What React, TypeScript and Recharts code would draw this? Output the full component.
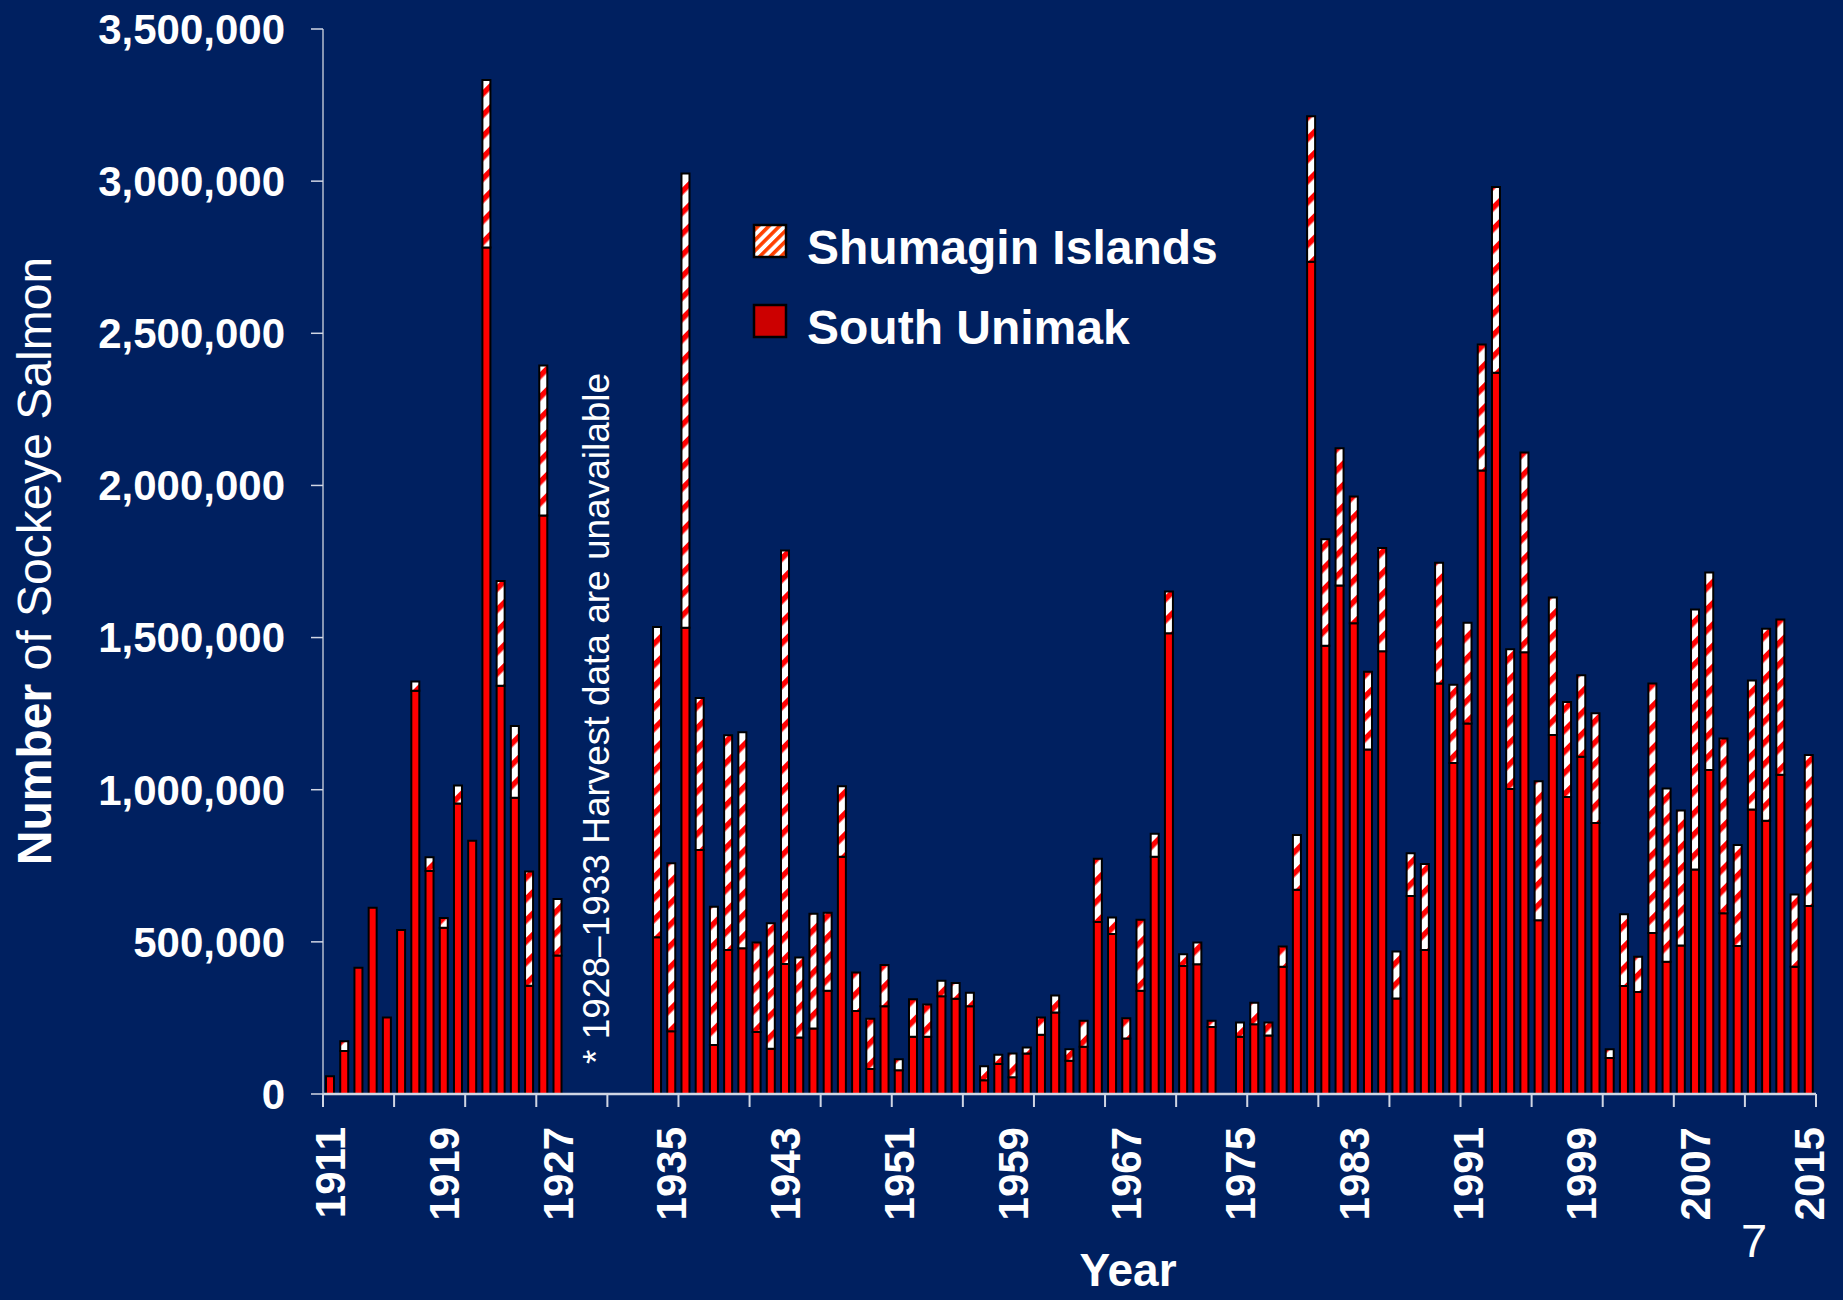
import React from 'react';
import { BarChart, Bar, XAxis, YAxis, Legend } from 'recharts';

// harvest years, 1911-2015 (1928-1933 and 1974 have no data)
const years = [
  1911, 1912, 1913, 1914, 1915, 1916, 1917, 1918, 1919, 1920,
  1921, 1922, 1923, 1924, 1925, 1926, 1927, 1928, 1929, 1930,
  1931, 1932, 1933, 1934, 1935, 1936, 1937, 1938, 1939, 1940,
  1941, 1942, 1943, 1944, 1945, 1946, 1947, 1948, 1949, 1950,
  1951, 1952, 1953, 1954, 1955, 1956, 1957, 1958, 1959, 1960,
  1961, 1962, 1963, 1964, 1965, 1966, 1967, 1968, 1969, 1970,
  1971, 1972, 1973, 1974, 1975, 1976, 1977, 1978, 1979, 1980,
  1981, 1982, 1983, 1984, 1985, 1986, 1987, 1988, 1989, 1990,
  1991, 1992, 1993, 1994, 1995, 1996, 1997, 1998, 1999, 2000,
  2001, 2002, 2003, 2004, 2005, 2006, 2007, 2008, 2009, 2010,
  2011, 2012, 2013, 2014, 2015,
];

const southUnimak = [
  58000, 141000, 415000, 612000, 251000, 539000, 1325000, 733000, 546000, 955000,
  832000, 2782000, 1342000, 974000, 356000, 1901000, 455000, null, null, null,
  null, null, null, 515000, 206000, 1532000, 802000, 161000, 473000, 479000,
  204000, 149000, 427000, 186000, 215000, 339000, 780000, 273000, 82000, 288000,
  78000, 188000, 188000, 321000, 313000, 288000, 45000, 99000, 55000, 133000,
  195000, 268000, 109000, 155000, 565000, 526000, 182000, 339000, 780000, 1514000,
  421000, 426000, 220000, null, 188000, 229000, 192000, 418000, 671000, 2735000,
  1473000, 1671000, 1547000, 1132000, 1455000, 314000, 651000, 473000, 1349000, 1088000,
  1218000, 2049000, 2370000, 1002000, 1452000, 571000, 1180000, 976000, 1108000, 891000,
  118000, 355000, 335000, 529000, 435000, 488000, 738000, 1065000, 594000, 486000,
  935000, 898000, 1049000, 418000, 618000,
];

const shumagin = [
  0, 32000, 0, 0, 0, 0, 31000, 45000, 32000, 59000,
  0, 550000, 344000, 235000, 375000, 493000, 186000, null, null, null,
  null, null, null, 1020000, 552000, 1493000, 499000, 454000, 706000, 710000,
  294000, 412000, 1359000, 263000, 377000, 257000, 231000, 126000, 165000, 136000,
  36000, 123000, 106000, 51000, 52000, 45000, 46000, 30000, 78000, 20000,
  56000, 56000, 38000, 86000, 208000, 54000, 67000, 234000, 75000, 137000,
  38000, 72000, 21000, null, 47000, 71000, 43000, 67000, 180000, 478000,
  350000, 451000, 417000, 256000, 339000, 154000, 140000, 283000, 397000, 257000,
  331000, 414000, 611000, 460000, 656000, 457000, 452000, 312000, 268000, 360000,
  29000, 236000, 116000, 820000, 569000, 444000, 854000, 649000, 574000, 332000,
  424000, 631000, 510000, 238000, 496000,
];

const yTicks = [0, 500000, 1000000, 1500000, 2000000, 2500000, 3000000, 3500000];
const legendOrder = ['shumagin', 'southUnimak'];
const LABEL_EVERY = 8;
const TICK_EVERY = 5;

const data = years.map((year, i) => ({
  year,
  southUnimak: southUnimak[i],
  shumagin: shumagin[i],
}));

const W = 1843;
const H = 1300;
const BG = '#002060';
const AXIS = '#D0D6E4';
const FONT = '"Liberation Sans", Arial, Helvetica, sans-serif';
const MARGIN = { top: 29, right: 27, left: 0, bottom: 0 };
const Y_WIDTH = 323;
const HALF_BAND = (W - Y_WIDTH - MARGIN.right) / years.length / 2;

const XTick = (props: any) => {
  const { x, y, index, payload } = props;
  const tx = x + 15;
  const ty = y + 33;
  return (
    <g>
      {index % TICK_EVERY === 0 && (
        <line x1={x - HALF_BAND} x2={x - HALF_BAND} y1={y} y2={y + 13} stroke={AXIS} strokeWidth={2} />
      )}
      {index === years.length - 1 && (
        <line x1={x + HALF_BAND} x2={x + HALF_BAND} y1={y} y2={y + 13} stroke={AXIS} strokeWidth={2} />
      )}
      {index % LABEL_EVERY === 0 && (
        <text
          x={tx}
          y={ty}
          transform={`rotate(-90 ${tx} ${ty})`}
          textAnchor="end"
          fill="#fff"
          fontSize={42}
          fontWeight="bold"
          fontFamily={FONT}
        >
          {payload.value}
        </text>
      )}
    </g>
  );
};

const YTitle = () => (
  <text
    x={51}
    y={561}
    transform="rotate(-90 51 561)"
    textAnchor="middle"
    fill="#fff"
    fontSize={48}
    fontFamily={FONT}
  >
    <tspan fontWeight="bold">Number</tspan>
    <tspan>{' of Sockeye Salmon'}</tspan>
  </text>
);

const XTitle = () => (
  <text x={1128} y={1286} textAnchor="middle" fill="#fff" fontSize={46} fontWeight="bold" fontFamily={FONT}>
    Year
  </text>
);

const LegendContent = (props: any) => {
  const items = [...(props.payload || [])].sort(
    (a: any, b: any) => legendOrder.indexOf(a.dataKey) - legendOrder.indexOf(b.dataKey)
  );
  return (
    <svg width={600} height={150}>
      <defs>
        <pattern id="hatchLegend" patternUnits="userSpaceOnUse" width={7.5} height={7.5} patternTransform="rotate(45)">
          <rect width={7.5} height={7.5} fill="#fff" />
          <rect width={3.6} height={7.5} fill="#FF4000" />
        </pattern>
      </defs>
      {items.map((item: any, i: number) => {
        const top = 14 + i * 80;
        const fill = item.dataKey === 'shumagin' ? 'url(#hatchLegend)' : '#CC0000';
        return (
          <g key={item.dataKey}>
            <rect x={14} y={top + 1} width={32} height={32} fill={fill} stroke="#000" strokeWidth={2.5} />
            <text x={67} y={top + 40} fill="#fff" fontSize={48} fontWeight="bold" fontFamily={FONT}>
              {item.value}
            </text>
          </g>
        );
      })}
    </svg>
  );
};

export default function App() {
  return (
    <div style={{ position: 'absolute', left: 0, top: 0, width: W, height: H, background: BG, overflow: 'hidden' }}>
      <BarChart width={W} height={H} data={data} margin={MARGIN} barSize={8}>
        <defs>
          <pattern id="hatch" patternUnits="userSpaceOnUse" width={15} height={15} patternTransform="rotate(45)">
            <rect width={15} height={15} fill="#fff" />
            <rect width={5.5} height={15} fill="#FF0000" />
          </pattern>
        </defs>
        <XAxis
          dataKey="year"
          interval={0}
          height={H - 1094 - MARGIN.bottom}
          tickSize={0}
          tickMargin={0}
          tickLine={false}
          tick={<XTick />}
          axisLine={{ stroke: AXIS, strokeWidth: 2.5 }}
          label={<XTitle />}
        />
        <YAxis
          width={Y_WIDTH}
          domain={[0, 3500000]}
          ticks={yTicks}
          interval={0}
          tickSize={12}
          tickMargin={26}
          tickFormatter={(v: number) => v.toLocaleString('en-US')}
          tick={{ fill: '#fff', fontSize: 42, fontWeight: 'bold', fontFamily: FONT }}
          tickLine={{ stroke: AXIS, strokeWidth: 1.5 }}
          axisLine={{ stroke: '#B4BCCE', strokeWidth: 1.5 }}
          label={<YTitle />}
        />
        <Legend
          layout="vertical"
          align="center"
          verticalAlign="middle"
          content={<LegendContent />}
          wrapperStyle={{ left: 740, top: 210, width: 600, height: 150 }}
        />
        <Bar
          dataKey="southUnimak"
          name="South Unimak"
          stackId="a"
          fill="#FF0000"
          stroke="#000"
          strokeWidth={2}
          isAnimationActive={false}
        />
        <Bar
          dataKey="shumagin"
          name="Shumagin Islands"
          stackId="a"
          fill="url(#hatch)"
          stroke="#000"
          strokeWidth={2}
          isAnimationActive={false}
        />
      </BarChart>
      <svg width={W} height={H} style={{ position: 'absolute', left: 0, top: 0, pointerEvents: 'none' }}>
        <text
          x={609}
          y={1064}
          transform="rotate(-90 609 1064)"
          fill="#fff"
          fontSize={37}
          fontFamily={FONT}
        >
          * 1928–1933 Harvest data are unavailable
        </text>
        <text x={1754} y={1257} textAnchor="middle" fill="#fff" fontSize={47} fontFamily={FONT}>
          7
        </text>
      </svg>
    </div>
  );
}
